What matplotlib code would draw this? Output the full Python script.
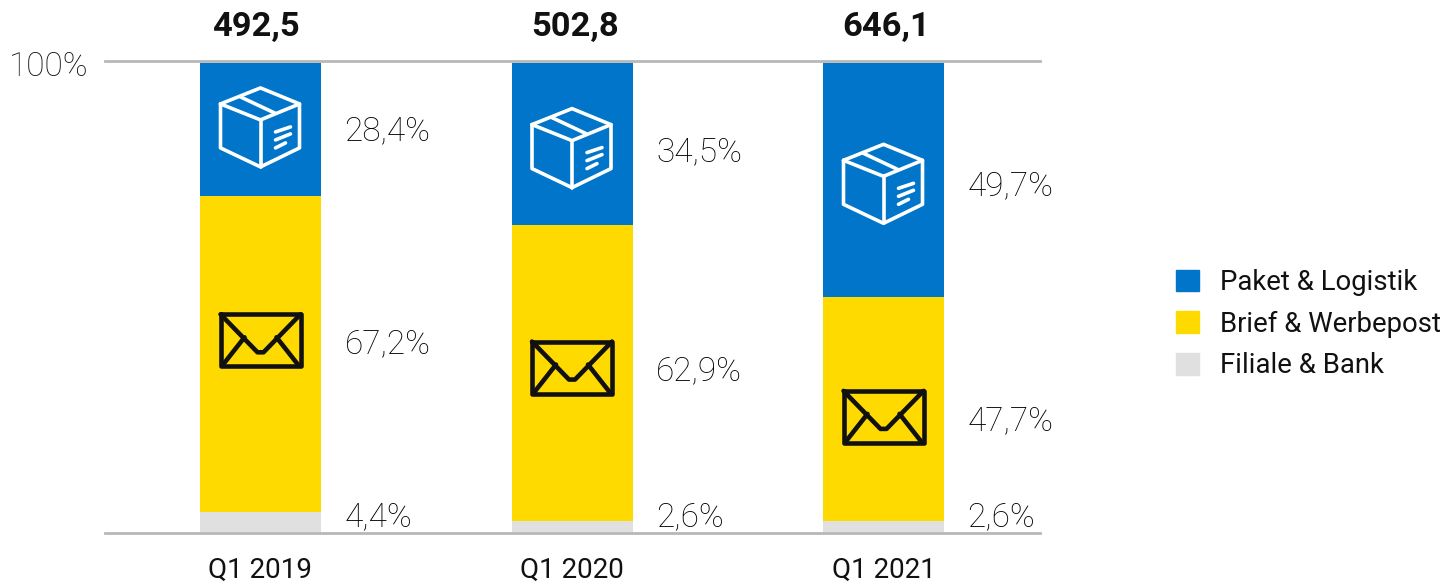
import matplotlib
matplotlib.use("Agg")
import matplotlib.pyplot as plt
from matplotlib.patches import Patch
from matplotlib.transforms import Affine2D
import numpy as np

# Data
quarters = ["Q1 2019", "Q1 2020", "Q1 2021"]
totals = ["492,5", "502,8", "646,1"]
filiale = [4.4, 2.6, 2.6]
brief = [67.2, 62.9, 47.7]
paket = [28.4, 34.5, 49.7]

BLUE = "#0075C9"
YELLOW = "#FFDA00"
GREY = "#E0E0E0"
LINE = "#B8B8B8"
TEXT = "#111111"

W, H = 1443, 583
AX_L, AX_R, AX_T, AX_B = 105, 1040, 60.5, 533
STEP = 311.5
FIRST = 260.5
PX_PER_PCT = 4.7

plt.rcParams["font.family"] = ["Roboto", "DejaVu Sans"]


def add_lines(ax, cx, cy, segs, color, lw):
    # icon segments are in pixels around the anchor, y pointing down
    px, py = ax.transData.transform((cx, cy))
    tr = Affine2D().scale(1, -1).translate(px, py)
    for seg in segs:
        xs, ys = zip(*seg)
        ax.plot(xs, ys, transform=tr, color=color, lw=lw, clip_on=False,
                solid_capstyle="round", solid_joinstyle="round", zorder=5)


box_icon = [
    [(-40, -23), (0, -39), (39, -23), (39, 21), (0, 40), (-40, 21), (-40, -23)],
    [(-40, -23), (0, -7), (39, -23)],
    [(0, -7), (0, 40)],
    [(-20, -30), (14, -14)],
    [(15, 5), (30, 0)],
    [(15, 13), (30, 7)],
    [(15, 21), (25, 16)],
]
env_icon = [
    [(-40, -26), (40, -26), (40, 26), (-40, 26), (-40, -26)],
    [(-40, -26), (-3, 12), (3, 12), (40, -26)],
    [(-38, 25), (-16, -3)],
    [(38, 25), (16, -3)],
]

# icon heights and value label heights, in percent of the axis
box_y = [86.4, 82.0, 74.4]
env_y = [41.0, 35.2, 24.7]
paket_label_y = [85.4, 81.1, 73.7]
brief_label_y = [40.1, 34.4, 23.7]
filiale_label_y = [3.4, 3.4, 3.4]
total_shift = [-5, 3, 3]  # the totals are not quite centred over the bars

fig = plt.figure(figsize=(W / 100, H / 100), dpi=100)
ax = fig.add_axes([AX_L / W, 1 - AX_B / H, (AX_R - AX_L) / W, (AX_B - AX_T) / H])

x = np.arange(len(quarters))
bar_w = 121 / STEP
ax.bar(x, filiale, bar_w, color=GREY, zorder=2)
ax.bar(x, brief, bar_w, bottom=filiale, color=YELLOW, zorder=2)
ax.bar(x, paket, bar_w, bottom=np.add(filiale, brief), color=BLUE, zorder=2)

ax.set_xlim((AX_L - FIRST) / STEP, (AX_R - FIRST) / STEP)
ax.set_ylim(0, (AX_B - AX_T) / PX_PER_PCT)

for s in ["left", "right"]:
    ax.spines[s].set_visible(False)
for s in ["top", "bottom"]:
    ax.spines[s].set_color(LINE)
    ax.spines[s].set_linewidth(2)
    ax.spines[s].set_zorder(3)

ax.set_xticks(x, quarters, fontsize=20, color=TEXT)
ax.tick_params(axis="x", length=0, pad=17)
ax.set_yticks([100], ["100%"], fontsize=24, fontweight="light", color=TEXT)
ax.tick_params(axis="y", length=0, pad=11.5)

for i in x:
    ax.text(i + total_shift[i] / STEP, 107.7, totals[i], ha="center", va="center",
            fontsize=24.8, fontweight="bold", color=TEXT)
    for vals, ys in [(paket, paket_label_y), (brief, brief_label_y), (filiale, filiale_label_y)]:
        ax.text(i + 84 / STEP, ys[i], f"{vals[i]:.1f}%".replace(".", ","),
                va="center", fontsize=24, fontweight="light", color="#000000")
    add_lines(ax, i, box_y[i], box_icon, "white", 2.6)
    add_lines(ax, i, env_y[i], env_icon, "#111111", 3.3)

handles = [Patch(color=BLUE), Patch(color=YELLOW), Patch(color=GREY)]
ax.legend(handles, ["Paket & Logistik", "Brief & Werbepost", "Filiale & Bank"],
          loc="upper left", bbox_to_anchor=(1176 / W, 1 - 269 / H),
          bbox_transform=fig.transFigure, frameon=False, fontsize=19.8,
          handlelength=0.84, handleheight=0.84, handletextpad=0.75,
          labelspacing=0.53, borderpad=0, borderaxespad=0, labelcolor=TEXT)

fig.savefig("out.png", dpi=100)
